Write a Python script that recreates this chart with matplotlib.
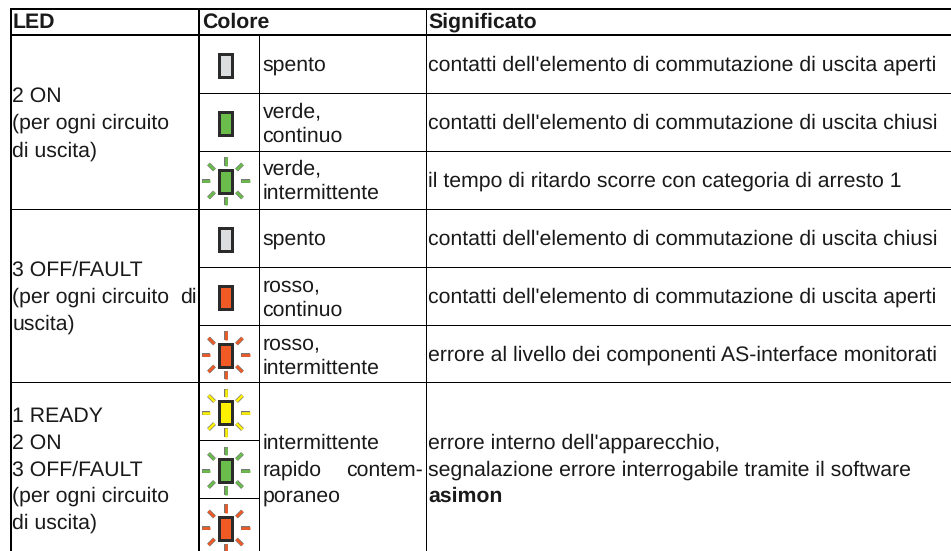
import matplotlib
matplotlib.use('Agg')
import matplotlib.pyplot as plt
from matplotlib.patches import Rectangle

W, H = 951, 551
PX = 0.72   # one pixel in points at dpi 100

# Table contents
header = ['LED', 'Colore', 'Significato']
led_text = ['2 ON', '(per ogni circuito', 'di uscita)',
            '3 OFF/FAULT', '(per ogni circuito', 'uscita)',
            '1 READY', '2 ON', '3 OFF/FAULT', '(per ogni circuito', 'di uscita)']
led_text_y = [101.5, 129, 156.5, 276, 303, 330, 421.5, 448.5, 475.5, 502, 529]
color_text = ['spento', 'verde,', 'continuo', 'verde,', 'intermittente',
              'spento', 'rosso,', 'continuo', 'rosso,', 'intermittente']
color_text_y = [71, 117, 142, 174, 199, 245, 291, 316, 349, 374]
meanings = ["contatti dell'elemento di commutazione di uscita aperti",
            "contatti dell'elemento di commutazione di uscita chiusi",
            "il tempo di ritardo scorre con categoria di arresto 1",
            "contatti dell'elemento di commutazione di uscita chiusi",
            "contatti dell'elemento di commutazione di uscita aperti",
            "errore al livello dei componenti AS-interface monitorati"]
meanings_y = [71, 129, 186.5, 245, 303, 361]
GREY, GREEN, RED, YELLOW = '#dcdddf', '#6abd4b', '#f15a24', '#fff200'
led_y = [65, 123, 181, 239, 297, 355, 412.5, 470.5, 528]
led_colors = [GREY, GREEN, GREEN, GREY, RED, RED, YELLOW, GREEN, RED]
led_rays = [False, False, True, False, False, True, True, True, True]

plt.rcParams['font.family'] = ['Liberation Sans', 'DejaVu Sans']
plt.rcParams['text.hinting'] = 'none'
fig = plt.figure(figsize=(W / 100, H / 100), dpi=100)
ax = fig.add_axes([0, 0, 1, 1])
ax.set_xlim(0, W)
ax.set_ylim(H, 0)
ax.axis('off')

FS = 15.35
BLACK = '#1a1a1a'


def hline(y, x0=10, x1=W, w=1.0):
    ax.plot([x0, x1], [y, y], color='black', lw=w * PX, solid_capstyle='butt')


def vline(x, y0, y1, w=1.0):
    ax.plot([x, x], [y0, y1], color='black', lw=w * PX, solid_capstyle='butt')


def label(x, y, s, **kw):
    ax.text(x, y, s, fontsize=FS, va='baseline', color=BLACK, **kw)


def draw_led(yc, color, rays):
    xc = 225.5
    ax.add_patch(Rectangle((xc - 6.3, yc - 11.5), 12.6, 23, fc=color, ec='#2b2b2b', lw=3 * PX, zorder=3))
    if not rays:
        return
    ends = [(0, -24, 0, -15.5), (0, 15.5, 0, 24), (-24, 0, -15.5, 0), (15.5, 0, 24, 0),
            (-17, -17, -11, -11), (11, -11, 17, -17), (-17, 17, -11, 11), (11, 11, 17, 17)]
    for x0, y0, x1, y1 in ends:
        ax.plot([xc + x0, xc + x1], [yc + y0, yc + y1], color='#777777', lw=4 * PX, solid_capstyle='butt')
        ax.plot([xc + x0, xc + x1], [yc + y0, yc + y1], color=color, lw=2.6 * PX, solid_capstyle='butt')


# Grid lines
hline(9, 9.5, W, 2)
hline(35, 9.5, W, 2)
for y in [93, 151, 267, 325]:
    hline(y, 198, W)
for y in [209, 382]:
    hline(y, 10, W)
for y in [440, 498]:
    hline(y, 198, 259)
vline(10.5, 8, H, 2)
vline(198.5, 8, H, 2)
vline(259, 35, H)
vline(426, 8, H)

# Text
label(13, 28, header[0], fontweight='bold')
label(202, 28, header[1], fontweight='bold')
label(428.5, 28, header[2], fontweight='bold')

for y, s in zip(led_text_y, led_text):
    label(12.5, y, s)
label(196.5, 303, 'di', ha='right')    # justified line in the original
for y, s in zip(color_text_y, color_text):
    label(262.5, y, s)
for y, s in zip(meanings_y, meanings):
    label(428, y, s)

label(262.5, 449, 'intermittente')
label(262.5, 476, 'rapido')
label(423, 476, 'contem-', ha='right')
label(262.5, 502, 'poraneo')
label(428, 449, "errore interno dell'apparecchio,")
label(428, 476, "segnalazione errore interrogabile tramite il software")
label(428, 502, "asimon", fontweight='bold')

for yc, color, rays in zip(led_y, led_colors, led_rays):
    draw_led(yc, color, rays)

fig.savefig('out.png', dpi=100)
